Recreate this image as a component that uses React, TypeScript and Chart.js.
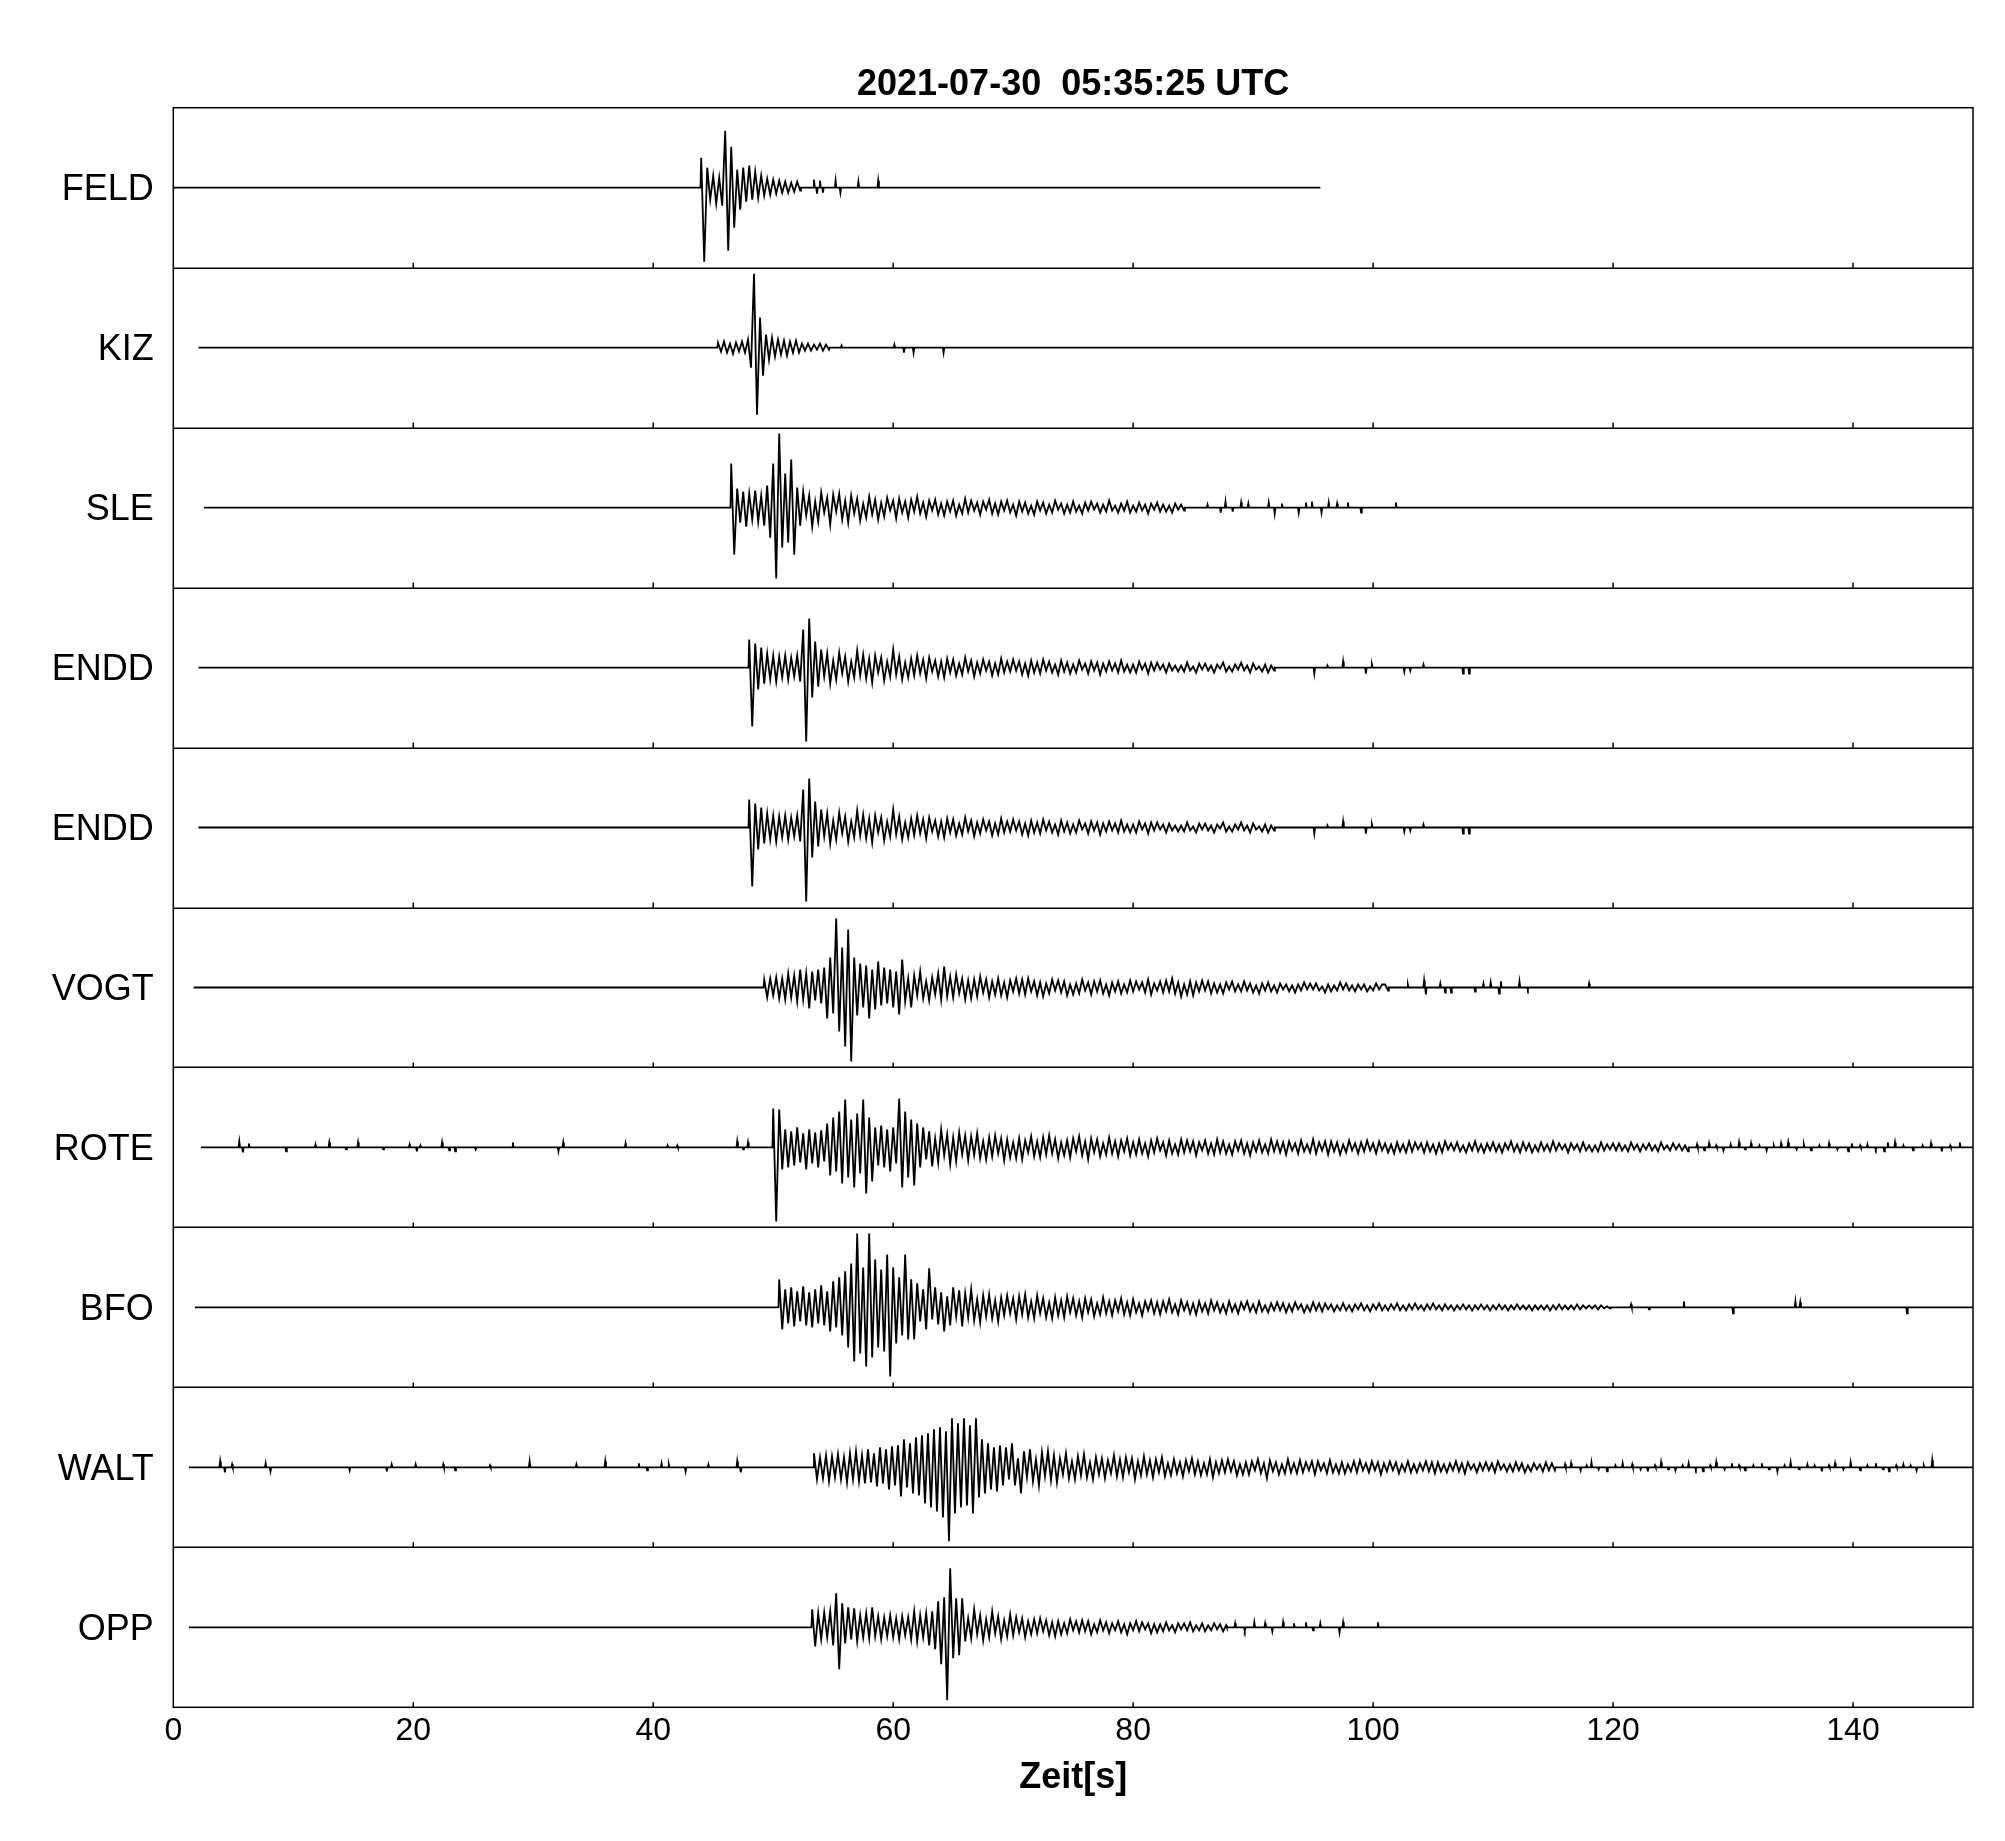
import React, { useEffect, useRef } from 'react';
import { Chart, registerables } from 'chart.js';

Chart.register(...registerables);

// ---------------- texts & axes ----------------
const TITLE = '2021-07-30  05:35:25 UTC';
const X_LABEL = 'Zeit[s]';
const STATIONS = ['FELD', 'KIZ', 'SLE', 'ENDD', 'ENDD', 'VOGT', 'ROTE', 'BFO', 'WALT', 'OPP'];
const X_MIN = 0;
const X_MAX = 150;
const X_STEP = 20;

// amplitudes below are read in reference pixels of a 160-px-high trace panel
const PANEL_PX = 160;
const DT = 0.25; // s between consecutive samples

// ---------------- FELD ----------------
const FELD_SPAN = [0, 95.6];
const FELD_STRONG_T0 = 44.0;
const FELD_STRONG = [30, -74, 20, -12, 12, -16, 10, -18, 57, -63, 41, -40, 18, -22, 20, -14, 22, -12, 16, -10, 12, -8, 9, -7, 8, -6, 7, -5, 6, -5, 5, -4, 6, -3];
const FELD_CODA_T0 = 52.5;
const FELD_CODA: number[] = [];
const FELD_BLIPS = [[53.4, 8], [53.65, -6], [53.9, 7], [54.15, -5], [55.2, 7], [55.6, -5], [57.1, 6], [58.75, 7]];

// ---------------- KIZ ----------------
const KIZ_SPAN = [2.1, 150];
const KIZ_STRONG_T0 = 45.4;
const KIZ_STRONG = [5, -4, 6, -5, 4, -6, 5, -4, 6, -5, 8, -20, 74, -67, 30, -28, 13, -12, 10, -9, 8, -7, 7, -8, 6, -5, 7, -5, 4, -3, 4, -3, 3, -2, 4, -3, 3, -2];
const KIZ_CODA_T0 = 55.0;
const KIZ_CODA: number[] = [];
const KIZ_BLIPS = [[55.7, 2], [60.1, 3], [60.9, -5], [61.7, -5], [64.2, -5]];

// ---------------- SLE ----------------
const SLE_SPAN = [2.55, 150];
const SLE_STRONG_T0 = 46.5;
const SLE_STRONG = [44, -47, 19, -15, 16, -19, 14, -12, 17, -14, 12, -18, 22, -30, 44, -71, 74, -40, 34, -35, 48, -47, 20, -18];
const SLE_CODA_T0 = 52.5;
const SLE_CODA = [
  16, -8, 12, -19, 6, -14, 15, -5,
  10, -17, 13, -4, 14, -12, 7, -15,
  12, -6, 9, -13, 4, -10, 11, -7,
  8, -12, 5, -9, 10, -3, 7, -11,
  9, -5, 6, -10, 8, -4, 11, -6,
  5, -9, 7, -3, 8, -7, 4, -8,
  6, -4, 7, -8, 3, -6, 9, -5,
  7, -3, 5, -7, 6, -2, 8, -6,
  4, -7, 6, -3, 7, -5, 3, -8,
  6, -4, 5, -6, 2, -7, 6, -3,
  5, -6, 3, -5, 7, -2, 4, -6,
  3, -5, 6, -4, 2, -6, 5, -3,
  6, -2, 4, -5, 3, -4, 7, -3,
  2, -5, 4, -3, 6, -5, 2, -4,
  5, -3, 3, -6, 4, -2, 5, -4,
  3, -4, 2, -5, 4, -2, 3, -3,
];
const SLE_BLIPS = [[86.2, 3], [87.3, -5], [87.7, 6], [88.3, -4], [89.0, 5], [89.6, 4], [91.3, 5], [91.8, -6], [92.4, 4], [93.8, -5], [94.4, 5], [94.9, 6], [95.7, -5], [96.3, 5], [97.0, 4], [97.9, 5], [99.0, -5], [101.9, 5]];

// ---------------- ENDD ----------------
const ENDD_SPAN = [2.1, 150];
const ENDD_STRONG_T0 = 48.0;
const ENDD_STRONG = [28, -59, 24, -22, 20, -16, 14, -12, 12, -14, 11, -10, 12, -12, 10, -9, 12, -14, 38, -74, 49, -30, 26, -19];
const ENDD_CODA_T0 = 54.0;
const ENDD_CODA = [
  18, -9, 14, -16, 7, -12, 15, -6,
  11, -14, 6, -10, 17, -8, 13, -11,
  9, -15, 12, -5, 10, -13, 6, -9,
  18, -7, 11, -12, 5, -10, 9, -8,
  12, -6, 8, -11, 10, -4, 7, -9,
  6, -10, 9, -5, 8, -8, 4, -7,
  10, -4, 7, -9, 5, -6, 8, -3,
  6, -8, 4, -7, 9, -5, 6, -4,
  8, -3, 6, -7, 4, -8, 7, -5,
  5, -6, 8, -3, 6, -5, 3, -7,
  7, -4, 5, -6, 3, -5, 7, -2,
  4, -6, 6, -3, 5, -7, 4, -4,
  6, -3, 4, -5, 7, -4, 3, -5,
  3, -5, 6, -2, 4, -6, 5, -3,
  5, -2, 3, -5, 4, -3, 2, -4,
  2, -4, 5, -3, 1, -5, 4, -2,
  4, -3, 2, -5, 3, -1, 5, -4,
  1, -4, 3, -2, 5, -3, 2, -5,
  4, -2, 1, -4, 3, -5, 2, -3,
];
const ENDD_BLIPS = [[95.1, -6], [96.2, 2], [97.5, 6], [99.4, -6], [99.9, 3], [102.6, -4], [103.1, -3], [104.2, 3], [107.5, -6], [108.0, -6]];

// ---------------- VOGT ----------------
const VOGT_SPAN = [1.7, 150];
const VOGT_STRONG_T0 = 49.25;
const VOGT_STRONG = [8, -10, 9, -8, 10, -11, 9, -12, 14, -10, 12, -14, 18, -12, 14, -21, 16, -13, 18, -16, 20, -31, 30, -26, 69, -44, 40, -59, 58, -74, 30, -28, 24, -20, 22, -31, 18, -22, 26, -18, 20, -16, 18, -20, 16, -27, 28];
const VOGT_CODA_T0 = 61.0;
const VOGT_CODA = [
  -14, 9, -20, 12, -8, 16, -11, 6,
  -13, 10, -7, 14, -12, 21, -9, 11,
  -10, 13, -6, 9, -12, 7, -11, 8,
  -9, 11, -5, 8, -10, 6, -7, 9,
  -8, 5, -10, 7, -4, 9, -6, 8,
  -7, 9, -4, 6, -8, 5, -9, 4,
  -6, 8, -3, 7, -5, 6, -8, 3,
  -7, 4, -6, 8, -3, 5, -7, 6,
  -4, 7, -6, 3, -8, 5, -4, 6,
  -6, 3, -5, 7, -4, 6, -2, 5,
  -5, 8, -7, 4, -3, 6, -5, 7,
  -4, 9, -6, 5, -9, 3, -7, 6,
  -8, 5, -4, 7, -3, 6, -6, 4,
  -5, 3, -6, 5, -2, 6, -4, 3,
  -4, 6, -3, 4, -5, 2, -6, 4,
  -3, 5, -4, 2, -5, 4, -2, 3,
  -4, 2, -5, 3, -3, 5, -2, 4,
  -2, 4, -3, 1, -5, 3, -4, 2,
  -3, 5, -2, 4, -3, 2, -4, 3,
  -2, 3, -4, 1, -3, 4, -2, 3,
  3, -3,
];
const VOGT_BLIPS = [[102.9, 3], [104.25, 7], [104.4, -7], [105.6, 4], [106.0, -5], [106.5, -5], [108.5, -4], [109.2, 4], [109.8, 5], [110.5, -6], [110.65, 6], [112.2, 6], [112.9, -2], [118.0, 4]];

// ---------------- ROTE ----------------
const ROTE_SPAN = [2.3, 150];
const ROTE_STRONG_T0 = 50.0;
const ROTE_STRONG = [39, -74, 38, -22, 18, -20, 16, -18, 20, -15, 14, -22, 18, -16, 15, -20, 17, -14, 24, -28, 30, -24, 36, -36, 48, -30, 28, -40, 34, -26, 48, -46, 30, -34, 20, -18, 22, -20, 18, -24, 20, -16, 49, -40, 36, -30, 28, -38, 24, -20];
const ROTE_CODA_T0 = 62.5;
const ROTE_CODA = [
  20, -12, 16, -19, 9, -15, 18, -8,
  13, -17, 10, -14, 15, -7, 12, -13,
  11, -8, 14, -11, 6, -12, 10, -9,
  12, -6, 9, -13, 8, -10, 5, -11,
  9, -12, 7, -5, 11, -9, 6, -10,
  10, -7, 12, -6, 8, -11, 5, -8,
  7, -10, 9, -4, 11, -8, 6, -12,
  9, -5, 8, -9, 4, -7, 10, -6,
  6, -9, 7, -4, 9, -8, 5, -7,
  8, -6, 4, -9, 7, -5, 9, -3,
  5, -8, 7, -6, 3, -7, 8, -5,
  7, -4, 6, -8, 5, -3, 7, -6,
  4, -7, 8, -5, 6, -6, 3, -7,
  6, -3, 7, -6, 4, -8, 5, -4,
  7, -5, 3, -6, 8, -4, 6, -5,
  5, -7, 6, -3, 4, -6, 7, -4,
  3, -5, 8, -6, 5, -3, 6, -7,
  6, -4, 5, -7, 3, -5, 7, -3,
  4, -6, 5, -4, 7, -3, 4, -6,
  6, -3, 4, -5, 3, -6, 5, -4,
  3, -5, 6, -4, 5, -2, 4, -5,
  5, -4, 3, -6, 4, -5, 6, -2,
  4, -3, 5, -4, 2, -5, 4, -3,
  6, -4, 3, -5, 4, -3, 5, -4,
  3, -5, 4, -2, 6, -4, 3, -5,
  5, -3, 4, -5, 2, -4, 5, -3,
  3, -4, 6, -3, 4, -2, 3, -5,
  4, -2, 3, -4, 5, -3, 2, -4,
  2, -4, 5, -3, 3, -2, 4, -3,
  4, -3, 2, -4, 5, -2, 3, -4,
  3, -2, 4, -3, 2, -4, 5, -2,
  2, -3, 4, -2, 3, -3, 2, -4,
];
const ROTE_BLIPS = [
  [5.5, 6], [5.8, -5], [6.3, 4], [9.4, -4], [11.85, 3], [13.0, 5], [14.4, -2], [15.4, 5], [17.5, -2],
  [19.7, 3], [20.3, -4], [20.6, 2], [22.4, 5], [23.0, -3], [23.5, -4], [25.2, -2], [28.3, 5], [32.1, -4],
  [32.5, 5], [37.7, 4], [41.2, 2], [42.0, 2], [47.0, 6], [47.5, -2], [47.9, 5],
  [127.0, 3], [127.6, -3], [128.0, 4], [128.6, 2], [129.2, -3], [129.8, 3], [130.5, 5], [131.0, -2], [131.5, 4],
  [132.2, 2], [132.8, -3], [133.4, 2], [134.0, 4], [134.6, 5], [135.3, -2], [135.9, 3], [136.5, -3], [137.2, 2],
  [138.0, 4], [138.7, -2], [139.6, -4], [139.9, 4], [140.6, 2], [141.2, 3], [141.9, -2], [142.6, -4], [142.9, 5],
  [143.5, 5], [144.2, 2], [145.0, -3], [145.8, 2], [146.5, 4], [147.4, -4], [148.1, 2], [148.9, 5],
];

// ---------------- BFO ----------------
const BFO_SPAN = [1.8, 150];
const BFO_STRONG_T0 = 50.5;
const BFO_STRONG = [28, -22, 18, -16, 20, -19, 16, -14, 21, -18, 15, -20, 18, -16, 22, -18, 16, -24, 26, -20, 30, -28, 36, -40, 44, -54, 74, -46, 40, -59, 74, -50, 48, -40, 38, -44, 53, -69, 40, -36, 30, -28, 53, -32, 28, -32];
const BFO_CODA_T0 = 62.0;
const BFO_CODA = [
  24, -14, 18, -22, 39, -12, 20, -17,
  15, -24, 11, -18, 20, -9, 17, -19,
  14, -10, 18, -13, 8, -15, 12, -9,
  13, -11, 7, -14, 10, -8, 12, -6,
  9, -12, 11, -7, 13, -10, 6, -11,
  12, -6, 9, -10, 5, -11, 10, -8,
  7, -10, 11, -5, 9, -8, 6, -10,
  9, -5, 8, -9, 4, -7, 10, -6,
  6, -8, 7, -4, 9, -7, 5, -8,
  8, -5, 4, -8, 6, -3, 7, -6,
  5, -7, 6, -4, 8, -5, 3, -7,
  7, -3, 5, -6, 4, -7, 6, -4,
  4, -6, 7, -3, 5, -5, 3, -6,
  6, -4, 3, -6, 5, -2, 6, -4,
  3, -5, 6, -4, 2, -5, 4, -3,
  5, -3, 4, -5, 3, -4, 5, -2,
  3, -5, 2, -4, 5, -3, 4, -4,
  4, -2, 3, -4, 2, -3, 4, -3,
  2, -4, 3, -2, 4, -3, 2, -4,
  3, -2, 4, -3, 2, -3, 3, -2,
  4, -3, 2, -3, 3, -2, 4, -2,
  2, -3, 3, -2, 4, -2, 2, -3,
  3, -2, 2, -3, 2, -2, 3, -2,
  2, -3, 2, -2, 3, -2, 2, -3,
  2, -2, 3, -2, 2, -3, 2, -2,
  3, -2, 2, -2, 2, -3, 2, -2,
  2, -2, 2, -3, 2, -2, 3, -2,
  2, -2, 2, -2, 3, -2, 2, -1,
  2, -1, 2, -2, 2, -1, 1, -1,
];
const BFO_BLIPS = [[121.5, 3], [123.0, -2], [125.9, 6], [130.0, -6], [135.2, 6], [135.6, 5], [144.5, -6]];

// ---------------- WALT ----------------
const WALT_SPAN = [1.3, 150];
const WALT_STRONG_T0 = 53.4;
const WALT_STRONG = [14, -12, 10, -11, 12, -14, 11, -10, 13, -12, 10, -15, 14, -12, 16, -14, 12, -16, 18, -15, 14, -19, 20, -16, 18, -22, 21, -18, 22, -29, 28, -20, 24, -26, 30, -28, 32, -36, 34, -40, 38, -44, 40, -50, 36, -74, 49, -46, 44, -40, 49, -38, 42, -46, 49, -30, 28, -26, 24, -22, 20, -24, 22, -18];
const WALT_CODA_T0 = 69.4;
const WALT_CODA = [
  20, -12, 24, -18, 9, -26, 16, -10,
  18, -14, 8, -18, 15, -9, 16, -13,
  12, -15, 9, -7, 14, -11, 6, -12,
  11, -8, 13, -10, 5, -12, 10, -7,
  9, -11, 7, -6, 12, -9, 8, -10,
  10, -5, 9, -12, 6, -8, 11, -7,
  7, -10, 8, -5, 10, -9, 4, -8,
  8, -6, 5, -9, 7, -4, 9, -7,
  6, -8, 4, -7, 8, -10, 5, -6,
  7, -5, 8, -4, 6, -8, 3, -7,
  5, -7, 6, -3, 8, -6, 4, -11,
  7, -4, 5, -7, 3, -6, 8, -5,
  4, -6, 7, -5, 5, -3, 6, -7,
  6, -3, 4, -6, 7, -5, 3, -6,
  5, -6, 3, -4, 6, -5, 7, -3,
  4, -5, 6, -3, 5, -7, 4, -4,
  6, -3, 5, -6, 3, -4, 6, -5,
  3, -5, 4, -3, 6, -4, 5, -6,
  5, -4, 3, -5, 4, -3, 6, -4,
  4, -6, 5, -2, 3, -5, 4, -3,
  5, -3, 4, -5, 6, -2, 3, -4,
  3, -4, 5, -3, 4, -5, 2, -4,
  4, -2, 3, -4, 5, -3, 4, -3,
];
const WALT_BLIPS = [
  [3.9, 6], [4.3, -5], [4.9, 3], [7.7, 4], [8.1, -4], [14.7, -3], [17.8, -4], [18.2, 3], [20.2, 3],
  [22.5, 3], [23.5, -3], [26.4, 2], [29.7, 6], [33.6, 3], [36.0, 6], [38.8, 4], [39.5, -3], [40.7, 4],
  [41.3, 3], [42.7, -4], [44.6, 3], [47.0, 6], [47.3, -5],
  [116.0, 3], [116.5, 4], [117.3, -3], [117.8, 2], [118.2, 5], [118.8, -2], [119.5, -4], [120.2, 2], [120.8, 4],
  [121.6, 3], [122.3, -2], [122.9, -4], [123.5, 2], [124.0, 5], [124.6, -2], [125.2, -3], [125.8, 2], [126.3, 4],
  [126.9, -2], [127.5, -4], [128.1, 2], [128.6, 5], [129.3, -2], [129.9, 4], [130.5, 2], [131.0, -3], [131.7, 2],
  [132.4, 4], [133.0, -2], [133.7, -4], [134.3, 2], [134.8, 5], [135.5, -2], [136.2, 3], [136.8, 2], [137.4, -4],
  [138.0, 2], [138.5, 4], [139.2, -2], [139.8, 5], [140.6, -3], [141.2, 2], [141.9, 4], [142.5, -2], [143.0, -4],
  [143.6, 2], [144.2, 3], [144.8, 2], [145.3, -3], [145.9, 2], [146.6, 7],
];

// ---------------- OPP ----------------
const OPP_SPAN = [1.3, 150];
const OPP_STRONG_T0 = 53.25;
const OPP_STRONG = [18, -19, 14, -12, 15, -10, 16, -18, 34, -42, 24, -16, 20, -12, 19, -14, 12, -10, 14, -11, 20, -9, 11, -12, 10, -9, 12, -10, 9, -12, 11, -8, 10, -12, 16, -14, 12, -10, 14, -18, 16, -22, 26, -37, 30, -73, 59, -31, 29, -28, 29];
const OPP_CODA_T0 = 66.0;
const OPP_CODA = [
  -14, 9, -11, 18, -7, 12, -13, 8,
  -10, 16, -6, 11, -12, 7, -9, 13,
  -8, 10, -5, 9, -10, 6, -7, 8,
  -6, 9, -4, 7, -8, 5, -9, 6,
  -7, 4, -6, 8, -3, 6, -5, 7,
  -4, 6, -7, 3, -5, 7, -3, 5,
  -6, 4, -3, 6, -5, 3, -7, 4,
  -3, 6, -4, 5, -2, 4, -6, 3,
  -5, 3, -4, 5, -3, 2, -5, 4,
  -2, 4, -3, 5, -4, 2, -3, 4,
  -4, 2, -3, 4, -2, 3, -4, 2,
];
const OPP_BLIPS = [[88.5, 4], [89.3, -3], [90.1, 5], [91.0, 4], [91.6, -4], [92.5, 5], [93.4, 4], [94.4, 5], [95.0, -3], [95.6, 4], [97.2, -5], [97.5, 5], [100.4, 5]];

type Trace = {
  span: number[];
  strongT0: number;
  strong: number[];
  codaT0: number;
  coda: number[];
  blips: number[][];
};

const TRACES: Trace[] = [
  { span: FELD_SPAN, strongT0: FELD_STRONG_T0, strong: FELD_STRONG, codaT0: FELD_CODA_T0, coda: FELD_CODA, blips: FELD_BLIPS },
  { span: KIZ_SPAN, strongT0: KIZ_STRONG_T0, strong: KIZ_STRONG, codaT0: KIZ_CODA_T0, coda: KIZ_CODA, blips: KIZ_BLIPS },
  { span: SLE_SPAN, strongT0: SLE_STRONG_T0, strong: SLE_STRONG, codaT0: SLE_CODA_T0, coda: SLE_CODA, blips: SLE_BLIPS },
  { span: ENDD_SPAN, strongT0: ENDD_STRONG_T0, strong: ENDD_STRONG, codaT0: ENDD_CODA_T0, coda: ENDD_CODA, blips: ENDD_BLIPS },
  { span: ENDD_SPAN, strongT0: ENDD_STRONG_T0, strong: ENDD_STRONG, codaT0: ENDD_CODA_T0, coda: ENDD_CODA, blips: ENDD_BLIPS },
  { span: VOGT_SPAN, strongT0: VOGT_STRONG_T0, strong: VOGT_STRONG, codaT0: VOGT_CODA_T0, coda: VOGT_CODA, blips: VOGT_BLIPS },
  { span: ROTE_SPAN, strongT0: ROTE_STRONG_T0, strong: ROTE_STRONG, codaT0: ROTE_CODA_T0, coda: ROTE_CODA, blips: ROTE_BLIPS },
  { span: BFO_SPAN, strongT0: BFO_STRONG_T0, strong: BFO_STRONG, codaT0: BFO_CODA_T0, coda: BFO_CODA, blips: BFO_BLIPS },
  { span: WALT_SPAN, strongT0: WALT_STRONG_T0, strong: WALT_STRONG, codaT0: WALT_CODA_T0, coda: WALT_CODA, blips: WALT_BLIPS },
  { span: OPP_SPAN, strongT0: OPP_STRONG_T0, strong: OPP_STRONG, codaT0: OPP_CODA_T0, coda: OPP_CODA, blips: OPP_BLIPS },
];

const EDGE = 0.06; // half-width of an isolated spike, s

function tracePoints(tr: Trace, center: number) {
  const Y = (a: number) => center + a / PANEL_PX;
  const seg: { x: number; y: number }[] = [];
  tr.strong.forEach((a, i) => seg.push({ x: tr.strongT0 + i * DT, y: Y(a) }));
  tr.coda.forEach((a, i) => seg.push({ x: tr.codaT0 + i * DT, y: Y(a) }));
  const pts: { x: number; y: number }[] = [{ x: tr.span[0], y: center }, { x: tr.span[1], y: center }];
  if (seg.length) {
    pts.push({ x: seg[0].x - EDGE, y: center }, ...seg, { x: seg[seg.length - 1].x + EDGE, y: center });
  }
  for (const [t, a] of tr.blips) {
    pts.push({ x: t - EDGE, y: center }, { x: t, y: Y(a) }, { x: t + EDGE, y: center });
  }
  pts.sort((p, q) => p.x - q.x);
  return pts;
}

const FONT = "'Liberation Sans', Arial, Helvetica, sans-serif";
const TICK_LEN = 5;

const framePlugin = {
  id: 'seisFrame',
  afterDatasetsDraw(chart: any) {
    const { ctx, chartArea, scales } = chart;
    const { left, right, top, bottom } = chartArea;
    const x = scales.x;
    const y = scales.y;
    ctx.save();
    ctx.strokeStyle = '#000';
    ctx.lineWidth = 1.5;
    ctx.strokeRect(left, top, right - left, bottom - top);
    ctx.beginPath();
    for (let k = 1; k < STATIONS.length; k++) {
      const py = Math.round(y.getPixelForValue(k)) + 0.25;
      ctx.moveTo(left, py);
      ctx.lineTo(right, py);
    }
    for (let k = 0; k < STATIONS.length; k++) {
      const py = y.getPixelForValue(k);
      for (const tk of x.ticks) {
        const px = x.getPixelForValue(tk.value);
        if (px <= left + 1 || px >= right - 1) continue;
        ctx.moveTo(px, py);
        ctx.lineTo(px, py - TICK_LEN);
      }
    }
    ctx.stroke();
    ctx.restore();
  },
};

export default function App() {
  const ref = useRef<HTMLCanvasElement | null>(null);
  useEffect(() => {
    if (!ref.current) return;
    const n = STATIONS.length;
    const datasets = TRACES.map((tr, i) => ({
      label: STATIONS[i],
      data: tracePoints(tr, n - i - 0.5),
      borderColor: '#000',
      backgroundColor: '#000',
      borderWidth: 1.8,
      pointRadius: 0,
      pointHoverRadius: 0,
      tension: 0,
      fill: false,
    }));
    const chart = new Chart(ref.current, {
      type: 'line',
      data: { datasets },
      plugins: [framePlugin],
      options: {
        animation: false,
        responsive: false,
        parsing: false,
        normalized: true,
        events: [],
        layout: { padding: { left: 0, right: 32, top: 0, bottom: 0 } },
        plugins: {
          legend: { display: false },
          tooltip: { enabled: false },
          title: {
            display: true,
            text: TITLE,
            fullSize: false,
            color: '#000',
            font: { family: FONT, size: 36, weight: 'bold', lineHeight: 1.2 },
            padding: { top: 63, bottom: 1.5 },
          },
        },
        scales: {
          x: {
            type: 'linear',
            min: X_MIN,
            max: X_MAX,
            grid: { display: false, drawTicks: false },
            border: { display: false },
            ticks: {
              stepSize: X_STEP,
              includeBounds: false,
              color: '#000',
              font: { family: FONT, size: 32 },
              padding: 5,
              maxRotation: 0,
              autoSkip: false,
            },
            title: {
              display: true,
              text: X_LABEL,
              color: '#000',
              font: { family: FONT, size: 36, weight: 'bold', lineHeight: 1.2 },
              padding: { top: 0, bottom: 41 },
            },
            afterFit: (scale: any) => {
              scale.height = 133.7;
            },
          },
          y: {
            type: 'linear',
            min: 0,
            max: n,
            grid: { display: false, drawTicks: false },
            border: { display: false },
            afterBuildTicks: (scale: any) => {
              scale.ticks = STATIONS.map((_, i) => ({ value: n - i - 0.5 }));
            },
            ticks: {
              color: '#000',
              font: { family: FONT, size: 36 },
              padding: 19.5,
              labelOffset: 2.5,
              autoSkip: false,
              callback: (v: any) => STATIONS[Math.round(n - 0.5 - Number(v))],
            },
            afterFit: (scale: any) => {
              scale.width = 173.3;
            },
          },
        },
      } as any,
    });
    return () => chart.destroy();
  }, []);
  return (
    <div style={{ position: 'absolute', left: 0, top: 0, width: 2005, height: 1841, background: '#fff' }}>
      <canvas ref={ref} width={2005} height={1841} style={{ display: 'block' }} />
    </div>
  );
}
